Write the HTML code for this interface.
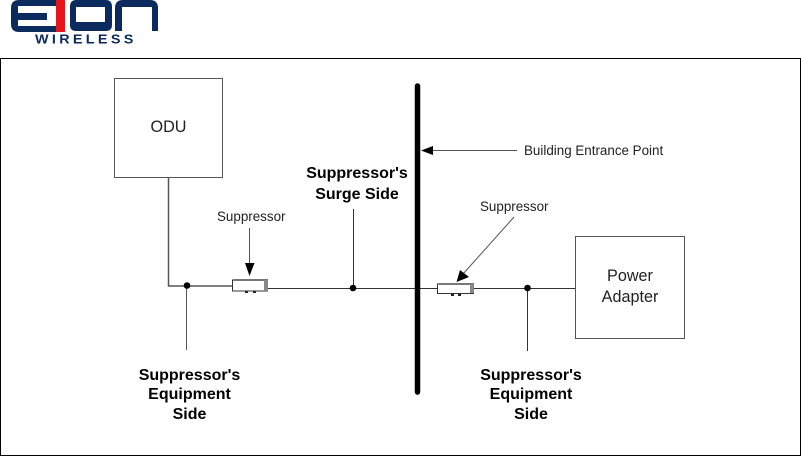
<!DOCTYPE html>
<html><head><meta charset="utf-8"><style>
html,body{margin:0;padding:0;background:#fff}
svg{display:block}
text{font-family:"Liberation Sans",sans-serif}
.b{font-weight:bold;font-size:16px;text-anchor:middle;fill:#000}
.s{font-size:13.4px;fill:#222}
.l{font-size:16.2px;fill:#222;text-anchor:middle}
</style></head><body>
<svg width="801" height="456" viewBox="0 0 801 456" xmlns="http://www.w3.org/2000/svg">
<rect width="801" height="456" fill="#fff"/>
<!-- logo -->
<g fill="#0b2a5e">
<path d="M19 0H56V6H18V13H47V20H18V26H56V32H19Q11 32 11 24V8Q11 0 19 0Z"/>
<path d="M76 0H106Q112 0 112 7V25Q112 31 106 31H76Q70 31 70 25V7Q70 0 76 0ZM76 7V22H105V7Z" fill-rule="evenodd"/>
<path d="M115 31V8Q115 0 123 0H150Q158 0 158 8V31H152V7H122V31Z"/>
</g>
<rect x="56" y="0" width="9" height="32" fill="#e8141c"/>
<g transform="translate(35 43.500) scale(1.150 1)"><text x="0" y="0" font-size="12.500" font-weight="bold" fill="#0b2a5e" textLength="85.500" lengthAdjust="spacing">WIRELESS</text></g>
<!-- frame -->
<rect x="0.500" y="58.500" width="800" height="397" fill="none" stroke="#000" stroke-width="1"/>
<!-- boxes -->
<rect x="114.500" y="78.500" width="108" height="99" fill="#fff" stroke="#555"/>
<rect x="575.500" y="236.500" width="109" height="102" fill="#fff" stroke="#555"/>
<text class="l" x="168.500" y="132">ODU</text>
<text class="l" x="630" y="281">Power</text>
<text class="l" x="630" y="302">Adapter</text>
<!-- lines -->
<g fill="none" stroke="#555" stroke-width="1">
<path d="M168.500 178V286H232" stroke-width="1.500"/>
<path d="M268 288.500H438" stroke="#333"/>
<path d="M473 288.500H575" stroke="#333"/>
<path d="M186.500 287V350"/>
<path d="M353.500 288V209" stroke="#333"/>
<path d="M527.500 288V351" stroke="#333"/>
<path d="M249.500 228V265"/>
<path d="M514 217L463 274"/>
<path d="M430 150.500H517"/>
</g>
<!-- bar -->
<path d="M417.500 86V392" stroke="#000" stroke-width="5.500" stroke-linecap="round"/>
<!-- dots -->
<circle cx="187" cy="285.500" r="3.300" fill="#000"/>
<circle cx="353" cy="288" r="3.300" fill="#000"/>
<circle cx="527.500" cy="288" r="3.300" fill="#000"/>
<!-- arrowheads -->
<path d="M245 263H254.500L249.500 276Z" fill="#000"/>
<path d="M421 150.500L433 146V155Z" fill="#000"/>
<path d="M456.500 282L460 270L469 277Z" fill="#000"/>
<!-- suppressors -->
<g>
<rect x="232.500" y="280" width="35" height="11" fill="#fff" stroke="#333"/>
<rect x="233" y="279" width="35" height="2" fill="#777"/>
<rect x="264" y="280" width="4" height="11" fill="#888"/>
<rect x="245" y="291" width="3" height="2" fill="#222"/>
<rect x="253" y="291" width="3" height="2" fill="#222"/>
</g>
<g>
<rect x="437.500" y="284" width="36" height="9.500" fill="#fff" stroke="#333"/>
<rect x="439" y="283" width="35" height="2" fill="#777"/>
<rect x="470" y="284" width="4" height="9" fill="#888"/>
<rect x="451" y="294" width="3" height="2" fill="#222"/>
<rect x="458" y="294" width="3" height="2" fill="#222"/>
</g>
<!-- labels -->
<text class="s" x="217" y="221">Suppressor</text>
<text class="s" x="480" y="211">Suppressor</text>
<text class="s" x="524" y="155">Building Entrance Point</text>
<text class="b" x="357" y="178">Suppressor's</text>
<text class="b" x="357" y="199">Surge Side</text>
<text class="b" x="189.500" y="380">Suppressor's</text>
<text class="b" x="189.500" y="399">Equipment</text>
<text class="b" x="189.500" y="419">Side</text>
<text class="b" x="531" y="380">Suppressor's</text>
<text class="b" x="531" y="399">Equipment</text>
<text class="b" x="531" y="419">Side</text>
</svg>
</body></html>
